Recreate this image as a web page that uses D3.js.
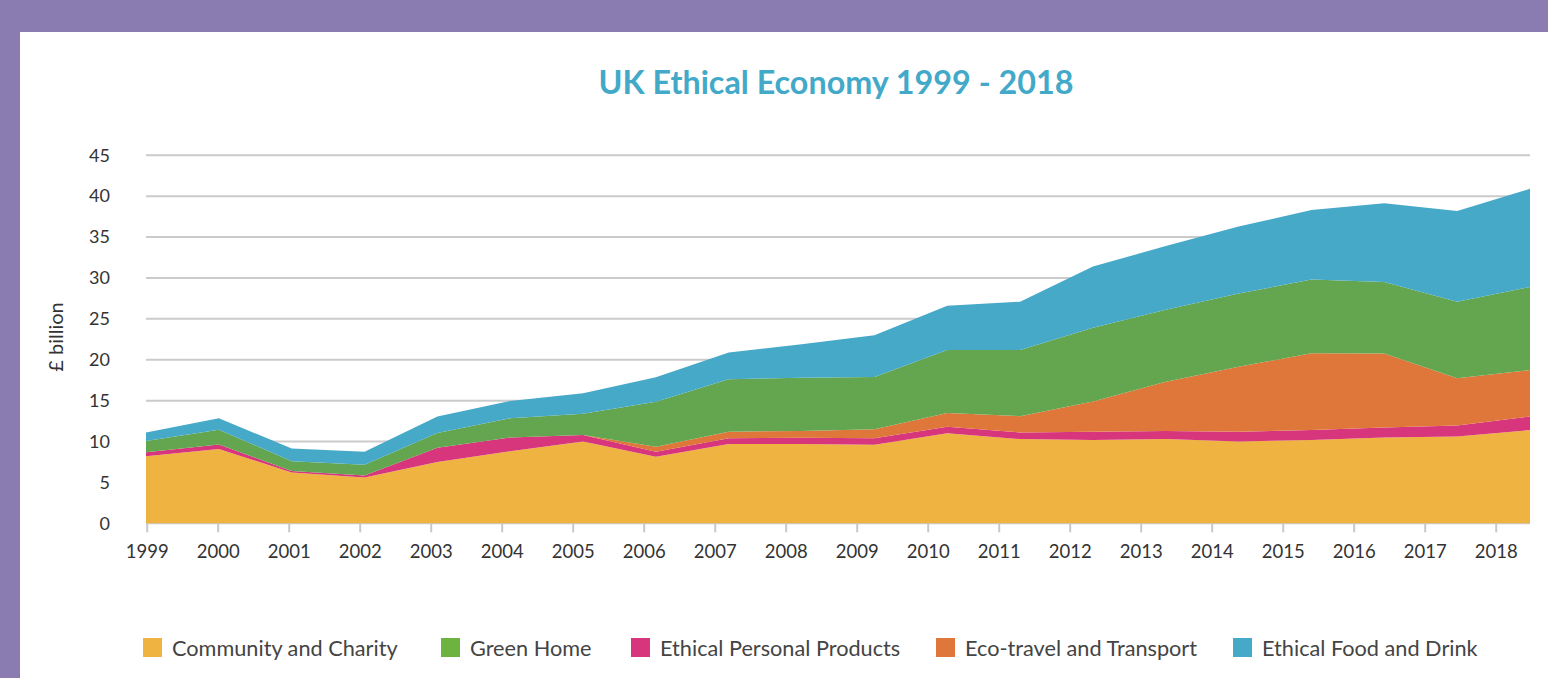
<!DOCTYPE html>
<html>
<head>
<meta charset="utf-8">
<script src="https://cdn.jsdelivr.net/npm/d3@7"></script>
<style>
  html, body { margin: 0; padding: 0; background: #8a7cb0; }
  svg { display: block; }
</style>
</head>
<body>
<svg id="chart" width="1548" height="678"></svg>
<script>
// ---- data ----
const years = [1999,2000,2001,2002,2003,2004,2005,2006,2007,2008,2009,2010,2011,2012,2013,2014,2015,2016,2017,2018];
const community = [8.2, 9.1, 6.2, 5.6, 7.5, 8.8, 10.0, 8.15, 9.7, 9.7, 9.6, 11.0, 10.3, 10.2, 10.3, 10.0, 10.2, 10.5, 10.6, 11.4];
const personal  = [0.5, 0.55, 0.2, 0.25, 1.75, 1.7, 0.8, 0.6, 0.7, 0.75, 0.8, 0.8, 0.8, 1.0, 1.0, 1.2, 1.2, 1.2, 1.35, 1.65];
const transport = [0, 0, 0, 0, 0, 0, 0, 0.6, 0.8, 0.85, 1.1, 1.7, 2.0, 3.7, 6.0, 7.95, 9.4, 9.05, 5.8, 5.7];
const greenHome = [1.35, 1.8, 1.2, 1.3, 1.8, 2.35, 2.6, 5.5, 6.4, 6.5, 6.4, 7.7, 8.1, 9.0, 8.8, 8.95, 9.0, 8.75, 9.35, 10.15];
const food      = [1.05, 1.4, 1.55, 1.6, 2.0, 2.1, 2.5, 3.0, 3.3, 4.1, 5.1, 5.4, 5.9, 7.5, 7.8, 8.2, 8.5, 9.65, 11.1, 12.0];
const yTicks = [0,5,10,15,20,25,30,35,40,45];

// stack order bottom -> top
const stackKeys = ["Community and Charity","Ethical Personal Products","Eco-travel and Transport","Green Home","Ethical Food and Drink"];
const seriesValues = [community, personal, transport, greenHome, food];
const areaColors = {
  "Community and Charity": "#efb341",
  "Ethical Personal Products": "#d7367c",
  "Eco-travel and Transport": "#e0773a",
  "Green Home": "#64a650",
  "Ethical Food and Drink": "#46a9c8"
};
const legendKeys = ["Community and Charity","Green Home","Ethical Personal Products","Eco-travel and Transport","Ethical Food and Drink"];
const legendColors = {
  "Community and Charity": "#efb341",
  "Green Home": "#6db33f",
  "Ethical Personal Products": "#d7367c",
  "Eco-travel and Transport": "#e0773a",
  "Ethical Food and Drink": "#46a9c8"
};

const table = years.map((yr, i) => {
  const row = { year: yr };
  stackKeys.forEach((k, j) => row[k] = seriesValues[j][i]);
  return row;
});

const svg = d3.select("#chart");
const font = "Lato, 'Open Sans', sans-serif";

// white panel
svg.append("rect").attr("x", 20).attr("y", 32).attr("width", 1528).attr("height", 646).attr("fill", "#ffffff");

// scales
const xData = d3.scalePoint().domain(years).range([146, 1530]);
const xAxisScale = d3.scalePoint().domain(years).range([146.7, 1495.7]);
const y = d3.scaleLinear().domain([0, 45]).range([523.3, 155.3]);

// gridlines
svg.append("g").selectAll("line").data(yTicks).join("line")
  .attr("x1", 146).attr("x2", 1530)
  .attr("y1", d => y(d)).attr("y2", d => y(d))
  .attr("stroke", "#cbcbcb").attr("stroke-width", 2);

// areas
const stacked = d3.stack().keys(stackKeys)(table);
const area = d3.area()
  .x(d => xData(d.data.year))
  .y0(d => y(d[0]))
  .y1(d => y(d[1]));
svg.append("g").selectAll("path").data(stacked).join("path")
  .attr("d", area)
  .attr("fill", d => areaColors[d.key]);

// y axis labels
const yAxis = d3.axisLeft(y).tickValues(yTicks).tickSize(0).tickPadding(0);
const gy = svg.append("g").attr("transform", "translate(110,0)").call(yAxis);
gy.select(".domain").remove();
gy.selectAll("text").attr("font-family", font).attr("font-size", 18).attr("fill", "#333");

// x axis
const xAxis = d3.axisBottom(xAxisScale).tickSize(9).tickPadding(13).tickFormat(d3.format("d"));
const gx = svg.append("g").attr("transform", "translate(0,523.3)").call(xAxis);
gx.select(".domain").remove();
gx.selectAll(".tick line").attr("stroke", "#c8c8c8").attr("stroke-width", 2);
gx.selectAll("text").attr("font-family", font).attr("font-size", 18.5).attr("fill", "#333");

// y axis title
svg.append("text")
  .attr("transform", "translate(63,337) rotate(-90)")
  .attr("text-anchor", "middle")
  .attr("font-family", font).attr("font-size", 20).attr("fill", "#333")
  .text("£ billion");

// title
svg.append("text")
  .attr("x", 836).attr("y", 94)
  .attr("text-anchor", "middle")
  .attr("font-family", font).attr("font-weight", 700).attr("font-size", 33)
  .attr("fill", "#43a9c9")
  .attr("textLength", 475).attr("lengthAdjust", "spacingAndGlyphs")
  .text("UK Ethical Economy 1999 - 2018");

// legend
const legendX = [143, 441, 631, 936, 1233];
const lg = svg.append("g").selectAll("g").data(legendKeys).join("g")
  .attr("transform", (d, i) => `translate(${legendX[i]},638)`);
lg.append("rect").attr("width", 19).attr("height", 19).attr("fill", d => legendColors[d]);
lg.append("text").attr("x", 29).attr("y", 10).attr("dy", "0.35em")
  .attr("font-family", font).attr("font-size", 21.7).attr("fill", "#444")
  .text(d => d);
</script>
</body>
</html>
